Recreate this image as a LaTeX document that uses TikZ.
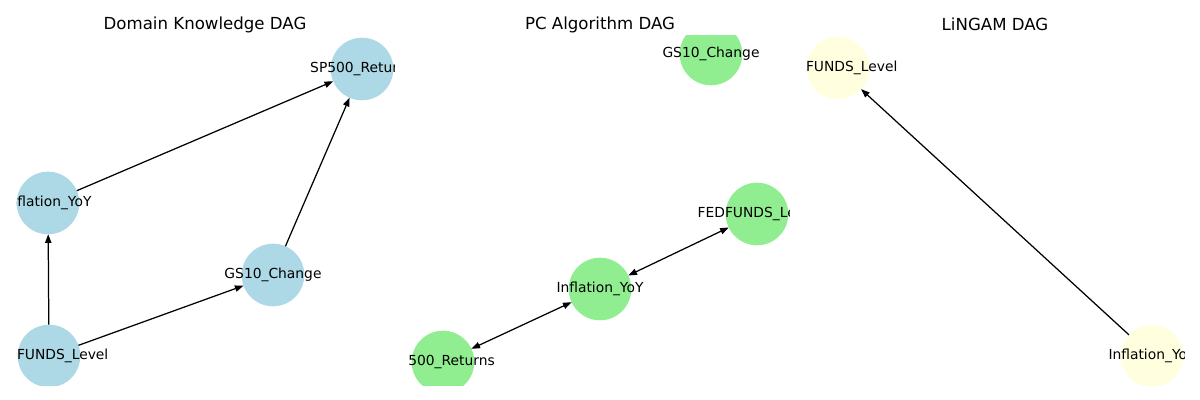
\documentclass[tikz,border=0pt]{standalone}
\usepackage{fontspec}
\setmainfont{DejaVu Sans}
\usepackage{tikz}
\usetikzlibrary{arrows.meta}

\definecolor{lblue}{HTML}{ADD8E6}
\definecolor{lgreen}{HTML}{90EE90}
\definecolor{lyellow}{HTML}{FFFFE0}

% zero-width label, so the text runs over the disc
\newcommand{\vname}[1]{\makebox[0pt]{#1}}

\begin{document}
\begin{tikzpicture}[
  x=0.254mm, y=-0.254mm,
  >={Triangle[length=2.2mm,width=1.6mm]},
  every node/.style={font=\fontsize{10}{12}\selectfont},
  vtx/.style={circle, minimum size=15.9mm, inner sep=0pt, outer sep=0pt},
  dk/.style={vtx, fill=lblue},
  pc/.style={vtx, fill=lgreen},
  lg/.style={vtx, fill=lyellow},
  msg/.style={->, line width=0.9pt},
  both/.style={<->, line width=0.9pt},
  ttl/.style={font=\fontsize{12}{14}\selectfont}
]
\useasboundingbox (0,0) rectangle (1200,400);

% ---------- Titles ----------
\node[ttl] (t1) at (205,24.5) {Domain Knowledge DAG};
\node[ttl] (t2) at (600,24.5) {PC Algorithm DAG};
\node[ttl] (t3) at (995,24.5) {LiNGAM DAG};

% ---------- Domain knowledge ----------
\begin{scope}
\clip (16,36) rectangle (394,386);
\node[dk] (sp1)  at (362,69)  {\vname{SP500\_Returns}};
\node[dk] (inf1) at (48,203)  {\vname{Inflation\_YoY}};
\node[dk] (gs1)  at (273,275) {\vname{GS10\_Change}};
\node[dk] (fed1) at (49,356)  {\vname{FEDFUNDS\_Level}};
\draw[msg] (inf1) -- (sp1);
\draw[msg] (gs1) -- (sp1);
\draw[msg] (fed1) -- (inf1);
\draw[msg] (fed1) -- (gs1);
\end{scope}

% ---------- PC algorithm ----------
\begin{scope}
\clip (409,36) rectangle (789,386);
\node[pc] (gs2)  at (711,54)  {\vname{GS10\_Change}};
\node[pc] (fed2) at (757,214) {\vname{FEDFUNDS\_Level}};
\node[pc] (inf2) at (600,289) {\vname{Inflation\_YoY}};
\node[pc] (sp2)  at (443,362) {\vname{SP500\_Returns}};
\draw[both] (inf2) -- (fed2);
\draw[both] (sp2) -- (inf2);
\end{scope}

% ---------- LiNGAM ----------
\begin{scope}
\clip (806,36) rectangle (1184,386);
\node[lg] (fed3) at (838,68)   {\vname{FEDFUNDS\_Level}};
\node[lg] (inf3) at (1152,356) {\vname{Inflation\_YoY}};
\draw[msg] (inf3) -- (fed3);
\end{scope}

\end{tikzpicture}
\end{document}
